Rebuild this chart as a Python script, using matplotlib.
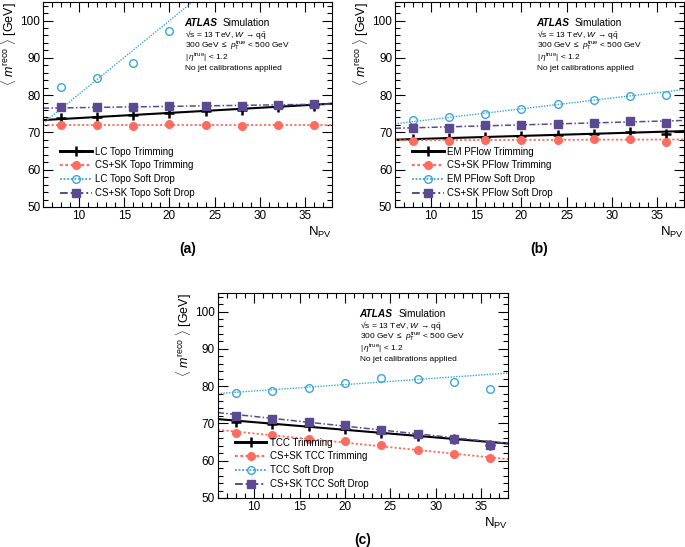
import numpy as np
import matplotlib.pyplot as plt
from matplotlib.ticker import MultipleLocator

plt.rcParams['font.family'] = ['Liberation Sans', 'DejaVu Sans']
plt.rcParams['mathtext.fontset'] = 'custom'
plt.rcParams['mathtext.rm'] = 'Liberation Sans'
plt.rcParams['mathtext.it'] = 'Liberation Sans:italic'
plt.rcParams['mathtext.bf'] = 'Liberation Sans:bold'

# N_PV bins
npv = [8, 12, 16, 20, 24, 28, 32, 36]
npv_sd_a = [8, 12, 16, 20]  # remaining LC Topo Soft Drop points are off scale
fit_x = [6, 38]

# Panel (a): Topo
a_names = ["LC Topo Trimming", "CS+SK Topo Trimming", "LC Topo Soft Drop", "CS+SK Topo Soft Drop"]
a_trim = [73.8, 74.2, 74.6, 75.2, 75.7, 76.1, 76.9, 77.2]
a_cssk_trim = [72.1, 71.9, 71.8, 72.2, 72.1, 71.8, 72.1, 72.1]
a_sd = [82.3, 84.7, 88.5, 97.3]
a_cssk_sd = [76.7, 76.7, 76.8, 77.1, 77.1, 77.2, 77.4, 77.7]
a_fits = [[73.3, 77.7], [72.05, 72.05], [72.4, 135.4], [76.5, 77.6]]

# Panel (b): PFlow
b_names = ["EM PFlow Trimming", "CS+SK PFlow Trimming", "EM PFlow Soft Drop", "CS+SK PFlow Soft Drop"]
b_trim = [68.3, 68.5, 68.7, 68.9, 69.2, 69.6, 70.1, 69.6]
b_cssk_trim = [67.7, 67.7, 67.9, 67.9, 67.9, 68.1, 68.3, 67.4]
b_sd = [73.2, 74.0, 75.0, 76.2, 77.6, 78.8, 79.8, 80.0]
b_cssk_sd = [71.2, 71.3, 71.9, 72.0, 72.2, 72.5, 73.0, 72.4]
b_fits = [[68.05, 70.35], [67.9, 68.1], [72.3, 81.5], [71.1, 73.2]]

# Panel (c): TCC
c_names = ["TCC Trimming", "CS+SK TCC Trimming", "TCC Soft Drop", "CS+SK TCC Soft Drop"]
c_trim = [70.5, 69.8, 69.2, 68.5, 67.3, 66.6, 65.7, 64.1]
c_cssk_trim = [67.5, 67.0, 65.8, 65.2, 64.1, 63.0, 61.9, 60.8]
c_sd = [78.1, 78.7, 79.4, 80.8, 82.2, 81.9, 81.1, 79.2]
c_cssk_sd = [72.1, 71.1, 70.3, 69.6, 68.2, 67.2, 65.7, 64.3]
c_fits = [[71.15, 64.6], [68.3, 60.4], [78.0, 83.5], [72.9, 64.6]]

# styles per series
styles = [
    dict(color="black", ls="-", lw=1.5, marker="+", mfc="black", ms=6.5),
    dict(color="#ff6b5e", ls=(0, (1.2, 1.2)), lw=1.3, marker="o", mfc="#ff6b5e", ms=5.5),
    dict(color="#3aa6d8", ls=(0, (1, 1)), lw=1.0, marker="o", mfc="none", ms=5.5),
    dict(color="#5b4a92", ls=(0, (4, 1.5, 1, 1.5)), lw=1.1, marker="s", mfc="#5b4a92", ms=5.5),
]

fig = plt.figure(figsize=(6.85, 5.47), dpi=100)
ax_a = fig.add_axes([0.0628, 0.6216, 0.422, 0.375])
ax_b = fig.add_axes([0.5766, 0.6216, 0.422, 0.375])
ax_c = fig.add_axes([0.318, 0.0896, 0.424, 0.375])

panels = [
    (ax_a, a_names, [(npv, a_trim), (npv, a_cssk_trim), (npv_sd_a, a_sd), (npv, a_cssk_sd)], a_fits, "(a)"),
    (ax_b, b_names, [(npv, b_trim), (npv, b_cssk_trim), (npv, b_sd), (npv, b_cssk_sd)], b_fits, "(b)"),
    (ax_c, c_names, [(npv, c_trim), (npv, c_cssk_trim), (npv, c_sd), (npv, c_cssk_sd)], c_fits, "(c)"),
]

for ax, names, series, fits, tag in panels:
    handles = []
    for (xs, ys), fit, st, name in zip(series, fits, styles, names):
        ax.plot(fit_x, fit, color=st["color"], ls=st["ls"], lw=st["lw"], zorder=2)
        mew = 1.8 if st["marker"] == "+" else 1.0
        ax.plot(xs, ys, ls="none", marker=st["marker"], ms=st["ms"], color=st["color"],
                mfc=st["mfc"], mew=mew, zorder=3)
        h, = ax.plot([], [], color=st["color"], ls=st["ls"], lw=st["lw"] + (0.6 if st["marker"] == "+" else 0.3),
                     marker=st["marker"], ms=st["ms"], mfc=st["mfc"], mew=mew, label=name)
        handles.append(h)
    ax.set_xlim(6, 38)
    ax.set_ylim(50, 105)
    ax.xaxis.set_major_locator(MultipleLocator(5))
    ax.xaxis.set_minor_locator(MultipleLocator(1))
    ax.yaxis.set_major_locator(MultipleLocator(10))
    ax.yaxis.set_minor_locator(MultipleLocator(2))
    ax.tick_params(which="both", direction="in", top=True, right=True, labelsize=8.5, pad=2)
    ax.tick_params(which="major", length=7, width=0.8)
    ax.tick_params(which="minor", length=3.5, width=0.8)
    for sp in ax.spines.values():
        sp.set_linewidth(0.8)
    ax.set_ylabel(r"$\langle\ m^{\rm reco}\ \rangle$ [GeV]", loc="top", fontsize=9, labelpad=1)
    ax.set_xlabel(r"N$_{\rm PV}$", loc="right", fontsize=9.5, labelpad=2)
    ax.legend(handles=handles, loc="lower left", bbox_to_anchor=(0.03, 0.0), frameon=False,
              fontsize=7, handlelength=3.2, handletextpad=0.4, labelspacing=0.4, numpoints=1)

    ax.text(0.488, 0.897, "ATLAS", transform=ax.transAxes, fontsize=7.3, va="center",
            fontweight="bold", style="italic")
    ax.text(0.622, 0.897, "Simulation", transform=ax.transAxes, fontsize=7.3, va="center")
    info = ["\u221as = 13 TeV, $W$ \u2192 q$\\bar{\\rm q}$",
            r"300 GeV $\leq$ $p_{\rm T}^{\rm true}$ < 500 GeV",
            r"$|\,\eta^{\rm true}|$ < 1.2",
            "No jet calibrations applied"]
    ys_info = [0.843, 0.785, 0.727, 0.677]
    for yy, line in zip(ys_info, info):
        ax.text(0.49, yy, line, transform=ax.transAxes, fontsize=6.0, va="center")

    pos = ax.get_position()
    fig.text(pos.x0 + pos.width / 2, pos.y0 - 0.076, tag, ha="center", va="center",
             fontsize=10, fontweight="bold")

fig.savefig("out.png", dpi=100)
